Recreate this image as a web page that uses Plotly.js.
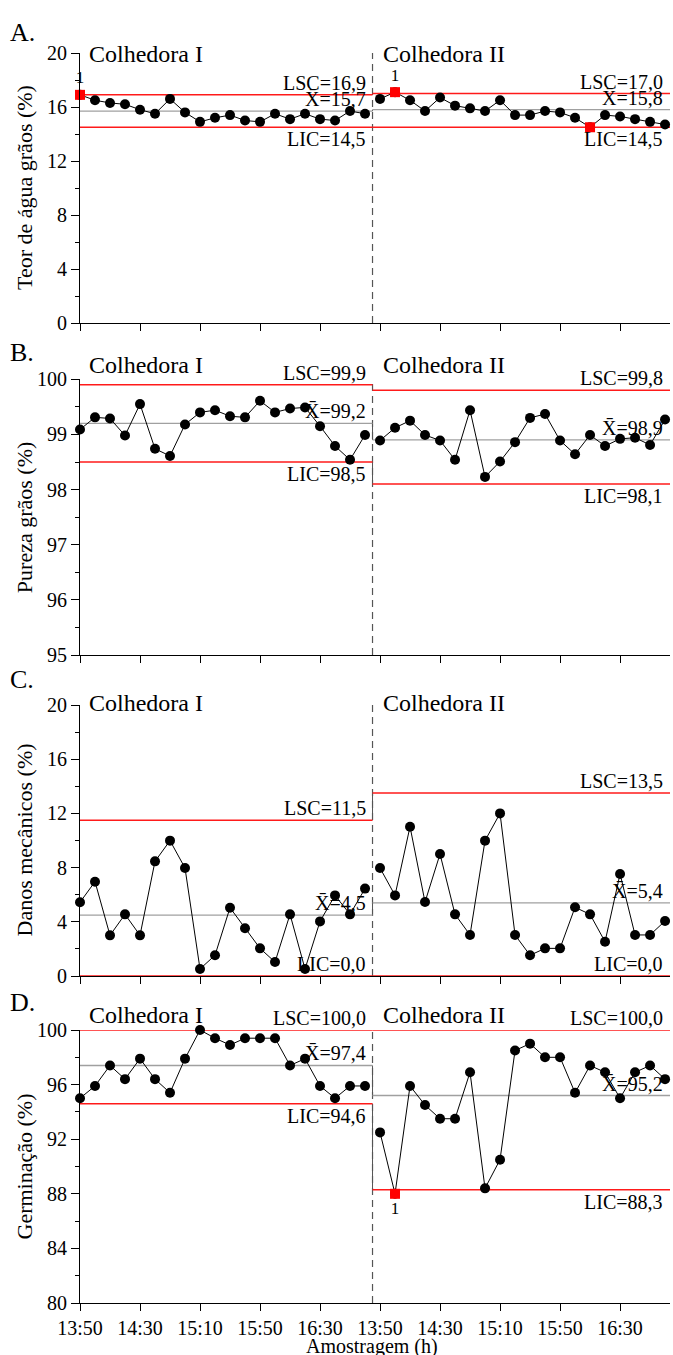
<!DOCTYPE html>
<html>
<head>
<meta charset="utf-8">
<script src="https://cdn.plot.ly/plotly-3.0.1.min.js"></script>
<style>html,body{margin:0;padding:0;background:#fff;}#chart{width:673px;height:1355px;}</style>
</head>
<body>
<div id="chart"></div>
<script>
// ---- Data ----
const times = ["13:50","14:00","14:10","14:20","14:30","14:40","14:50","15:00","15:10","15:20",
               "15:30","15:40","15:50","16:00","16:10","16:20","16:30","16:40","16:50","17:00"];
const tickLabels = ["13:50","14:30","15:10","15:50","16:30"];
const stages = ["Colhedora I", "Colhedora II"];
const panelLetters = ["A.", "B.", "C.", "D."];
const yTitles = ["Teor de água grãos (%)", "Pureza grãos (%)", "Danos mecânicos (%)", "Germinação (%)"];

const teorI  = [16.9,16.5,16.3,16.2,15.8,15.5,16.6,15.6,14.9,15.2,15.4,15.0,14.9,15.5,15.1,15.5,15.1,15.0,15.7,15.5];
const teorII = [16.6,17.1,16.5,15.7,16.7,16.1,15.9,15.7,16.5,15.4,15.4,15.7,15.6,15.2,14.5,15.4,15.3,15.1,14.9,14.7];
const purezaI  = [99.09,99.31,99.29,98.98,99.55,98.74,98.61,99.18,99.40,99.44,99.33,99.31,99.61,99.40,99.47,99.49,99.15,98.79,98.54,98.99];
const purezaII = [98.89,99.12,99.25,98.99,98.89,98.54,99.44,98.23,98.51,98.86,99.30,99.37,98.89,98.64,98.99,98.79,98.92,98.94,98.81,99.27];
const danosI  = [5.44,6.96,3.0,4.55,3.0,8.46,9.99,7.97,0.52,1.53,5.04,3.52,2.04,1.03,4.55,0.52,4.03,5.95,4.55,6.45];
const danosII = [7.97,5.95,11.02,5.46,9.0,4.55,3.03,9.99,12.0,3.03,1.53,2.04,2.04,5.07,4.55,2.53,7.53,3.03,3.03,4.06];
const germI  = [95.0,95.9,97.4,96.4,97.9,96.4,95.4,97.9,100.0,99.4,98.9,99.4,99.4,99.4,97.4,97.9,95.9,95.0,95.9,95.9];
const germII = [92.5,88.0,95.9,94.5,93.5,93.5,96.9,88.4,90.5,98.5,99.0,98.0,98.0,95.4,97.4,96.9,95.0,96.9,97.4,96.4];

// control limits [LSC, mean, LIC]
const teorLimI = [16.9,15.7,14.5], teorLimII = [17.0,15.8,14.5];
const purezaLimI = [99.9,99.2,98.5], purezaLimII = [99.8,98.9,98.1];
const danosLimI = [11.5,4.5,0.0], danosLimII = [13.5,5.4,0.0];
const germLimI = [100.0,97.4,94.6], germLimII = [100.0,95.2,88.3];

// out-of-control points (index) and test label
const teorFlagI = [0], teorFlagTextI = ["1"];
const teorFlagII = [1,14], teorFlagTextII = ["1",""];
const germFlagII = [1], germFlagTextII = ["1"];

// axis ranges
const yRanges = [[0,20],[95,100],[0,20],[80,100]];
const yDticks = [4,1,4,4];
const yMinor = [2,0.5,2,2];

// ---- Build ----
const FONT = "Liberation Serif";
const n = times.length;
const xEnd = 39.33;
const sep = n - 0.5;
const xI = times.map((t,i)=>i);
const xII = times.map((t,i)=>i+n);
const tickPos = [];
const tickTxt = [];
[0, n].forEach(off => tickLabels.forEach(l => { tickPos.push(times.indexOf(l)+off); tickTxt.push(l); }));

const panels = [
  {I: teorI, II: teorII, limI: teorLimI, limII: teorLimII, flags: [[teorFlagI,teorFlagTextI,"top center"],[teorFlagII,teorFlagTextII,"top center"]]},
  {I: purezaI, II: purezaII, limI: purezaLimI, limII: purezaLimII, flags: [null,null]},
  {I: danosI, II: danosII, limI: danosLimI, limII: danosLimII, flags: [null,null]},
  {I: germI, II: germII, limI: germLimI, limII: germLimII, flags: [null,[germFlagII,germFlagTextII,"bottom center"]]}
];

// pixel layout
const W = 673, H = 1355, mL = 80, mR = 3, mT = 20, mB = 52;
const plotH = H - mT - mB;
const py2p = py => (H - mB - py) / plotH;
const panelPx = [[53,323],[379.3,655],[705,976],[1030,1303]];
const letterPy = [32,352,680,1002];
const stagePy = [54,365,703,1015];

const data = [];
const layout = {
  width: W, height: H,
  margin: {l: mL, r: mR, t: mT, b: mB},
  paper_bgcolor: "#fff", plot_bgcolor: "#fff",
  showlegend: false, hovermode: false,
  font: {family: FONT, size: 19, color: "#000"},
  annotations: [], shapes: []
};

const fmt = v => v.toFixed(1).replace(".", ",");

panels.forEach((p, k) => {
  const sfx = k === 0 ? "" : String(k+1);
  const xa = "x" + sfx, ya = "y" + sfx;
  const dom = [py2p(panelPx[k][1]), py2p(panelPx[k][0])];
  const yr = yRanges[k];

  layout["xaxis" + sfx] = {
    domain: [0,1], anchor: ya, range: [0, xEnd],
    showline: true, linecolor: "#000", linewidth: 1,
    ticks: "outside", ticklen: 7, tickcolor: "#000",
    tickmode: "array", tickvals: tickPos, ticktext: tickTxt,
    showticklabels: k === 3, showgrid: false, zeroline: false,
    tickfont: {family: FONT, size: 20, color: "#000"}
  };
  layout["yaxis" + sfx] = {
    domain: dom, anchor: xa, range: yr,
    showline: true, linecolor: "#000", linewidth: 1,
    ticks: "outside", ticklen: 8, tickcolor: "#000",
    dtick: yDticks[k], tick0: yr[0],
    minor: {ticks: "outside", ticklen: 4, tickcolor: "#000", dtick: yMinor[k], tick0: yr[0]},
    showgrid: false, zeroline: false,
    tickfont: {family: FONT, size: 20, color: "#000"}
  };

  // separator dashed line
  data.push({x: [sep, sep], y: yr, xaxis: xa, yaxis: ya, mode: "lines",
    line: {color: "#555", width: 1.2, dash: "7px,5px"}, cliponaxis: false});

  // control limit lines (horizontal per stage) and grey stage connectors
  const limColors = ["#ff1a1a", "#a0a0a0", "#ff1a1a"];
  [0,1,2].forEach(j => {
    data.push({x: [sep, sep], y: [p.limI[j], p.limII[j]], xaxis: xa, yaxis: ya, mode: "lines",
      cliponaxis: false, line: {color: "#555", width: 1}});
    data.push({x: [0, sep], y: [p.limI[j], p.limI[j]],
      xaxis: xa, yaxis: ya, mode: "lines", cliponaxis: false,
      line: {color: limColors[j], width: j === 1 ? 1.3 : 1.5}});
    data.push({x: [sep, xEnd], y: [p.limII[j], p.limII[j]],
      xaxis: xa, yaxis: ya, mode: "lines", cliponaxis: false,
      line: {color: limColors[j], width: j === 1 ? 1.3 : 1.5}});
  });

  // data series
  [[xI, p.I], [xII, p.II]].forEach(([xs, ys]) => {
    data.push({x: xs, y: ys, xaxis: xa, yaxis: ya, mode: "lines+markers", cliponaxis: false,
      line: {color: "#000", width: 1}, marker: {color: "#000", size: 10, symbol: "circle"}});
  });

  // flagged points
  p.flags.forEach((f, s) => {
    if (!f) return;
    const xs = s === 0 ? xI : xII;
    const ys = s === 0 ? p.I : p.II;
    data.push({x: f[0].map(i => xs[i]), y: f[0].map(i => ys[i]), text: f[1],
      xaxis: xa, yaxis: ya, mode: "markers+text", textposition: f[2], cliponaxis: false,
      textfont: {family: FONT, size: 17, color: "#000"},
      marker: {color: "#ff0000", size: 10, symbol: "square"}});
  });

  // limit labels
  [[p.limI, 19.1], [p.limII, 38.9]].forEach(([lim, xr]) => {
    const names = ["LSC=", "X\u0304=", "LIC="];
    names.forEach((nm, j) => {
      const below = j === 2 && lim[2] > yr[0];
      layout.annotations.push({
        xref: xa, yref: ya, x: xr, y: lim[j], text: nm + fmt(lim[j]),
        xanchor: "right", yanchor: below ? "top" : "bottom", showarrow: false,
        font: {family: FONT, size: 20, color: "#000"}, borderpad: 0
      });
    });
  });

  // stage titles
  stages.forEach((st, s) => {
    layout.annotations.push({
      xref: xa, yref: "paper", x: s === 0 ? 0.45 : n + 0.05, y: py2p(stagePy[k]),
      text: st, xanchor: "left", yanchor: "middle", showarrow: false,
      font: {family: FONT, size: 24, color: "#000"}
    });
  });

  // panel letter
  layout.annotations.push({
    xref: "paper", yref: "paper", x: (8 - mL) / (W - mL - mR), y: py2p(letterPy[k]),
    text: panelLetters[k], xanchor: "left", yanchor: "middle", showarrow: false,
    font: {family: FONT, size: 26, color: "#000"}
  });

  // y axis title
  layout.annotations.push({
    xref: "paper", yref: "paper", x: (24 - mL) / (W - mL - mR), y: (dom[0] + dom[1]) / 2,
    text: yTitles[k], textangle: -90, xanchor: "center", yanchor: "middle", showarrow: false,
    font: {family: FONT, size: 22, color: "#000"}
  });
});

// x axis title
layout.annotations.push({
  xref: "paper", yref: "paper", x: (372 - mL) / (W - mL - mR), y: py2p(1333),
  text: "Amostragem (h)", xanchor: "center", yanchor: "top", showarrow: false,
  font: {family: FONT, size: 20, color: "#000"}
});

Plotly.newPlot("chart", data, layout, {staticPlot: true, displayModeBar: false});
</script>
</body>
</html>
